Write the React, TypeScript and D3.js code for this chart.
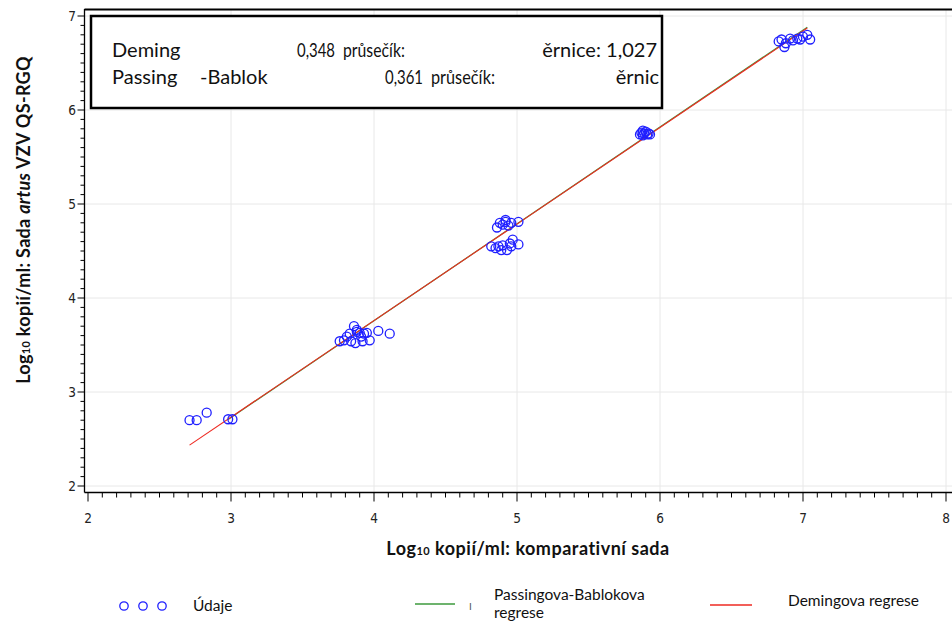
import React from 'react'
import * as d3 from 'd3'

// log10 copies/ml, comparative kit (x) vs artus VZV QS-RGQ (y)
const comparativeKit = [
	2.71, 2.76, 2.83, 2.98, 3.01,
	3.76, 3.79, 3.81, 3.83, 3.84, 3.86, 3.87, 3.88, 3.88, 3.90, 3.91, 3.92, 3.93, 3.95, 3.97, 4.03, 4.11,
	4.82, 4.85, 4.86, 4.87, 4.88, 4.89, 4.90, 4.90, 4.92, 4.93, 4.94, 4.95, 4.96, 4.96, 4.97, 5.01, 5.01, 4.92,
	5.86, 5.87, 5.88, 5.88, 5.89, 5.90, 5.91, 5.92, 5.93,
	6.83, 6.85, 6.87, 6.88, 6.91, 6.93, 6.96, 6.98, 7.00, 7.03, 7.05,
]
const artusKit = [
	2.70, 2.70, 2.78, 2.71, 2.71,
	3.54, 3.55, 3.59, 3.62, 3.54, 3.70, 3.52, 3.64, 3.66, 3.63, 3.59, 3.54, 3.62, 3.63, 3.55, 3.65, 3.62,
	4.55, 4.53, 4.75, 4.55, 4.80, 4.51, 4.78, 4.56, 4.83, 4.51, 4.77, 4.58, 4.80, 4.55, 4.62, 4.81, 4.57, 4.81,
	5.74, 5.76, 5.73, 5.78, 5.75, 5.77, 5.74, 5.75, 5.74,
	6.73, 6.75, 6.67, 6.71, 6.76, 6.74, 6.76, 6.75, 6.78, 6.80, 6.75,
]

const xTicks = [2, 3, 4, 5, 6, 7, 8]
const yTicks = [2, 3, 4, 5, 6, 7]

// regression fits: [intercept, slope], drawn over [from, to]
const demingFit = [-0.348, 1.027]
const demingRange = [2.71, 7.03]
const passingFit = [-0.361, 1.03]
const passingRange = [2.98, 7.03]

const legendLabels = ['Údaje', 'Passingova-Bablokova', 'regrese', 'Demingova regrese']

const blue = '#1f1fff'
const green = '#3c9a3c'
const red = '#ee2a22'
const sans = "Lato, 'Open Sans', sans-serif"
const narrow = "'Liberation Sans Narrow', 'DejaVu Sans Condensed', sans-serif"

export default function App() {
	const width = 952
	const height = 622
	const axisX = 84.5
	const axisY = 492.5

	const x = d3.scaleLinear().domain([2, 8]).range([88, 946])
	const y = d3.scaleLinear().domain([2, 7]).range([486, 16])

	const xMinor = d3.range(2, 8.001, 0.1)
	const yMinor = d3.range(2, 7.001, 0.1)

	const fitLine = (fit, range) => d3.line()
		.x(d => x(d))
		.y(d => y(fit[0] + fit[1] * d))(range)

	return (
		<div style={{position: 'fixed', left: 0, top: 0}}>
			<svg width={width} height={height} viewBox={`0 0 ${width} ${height}`} style={{display: 'block', background: '#fff'}}>
				{/* grid */}
				<g stroke="#e8e8e8" strokeWidth={1}>
					{xTicks.slice(1).map(t => (
						<line key={`gx-${t}`} x1={x(t)} x2={x(t)} y1={10} y2={axisY}/>
					))}
					{yTicks.map(t => (
						<line key={`gy-${t}`} x1={axisX} x2={width} y1={y(t)} y2={y(t)}/>
					))}
				</g>

				{/* fit lines */}
				<path d={fitLine(passingFit, passingRange)} fill="none" stroke={green} strokeWidth={1.2}/>
				<path d={fitLine(demingFit, demingRange)} fill="none" stroke={red} strokeWidth={1.1}/>

				{/* points */}
				<g fill="none" stroke={blue} strokeWidth={1.3}>
					{comparativeKit.map((d, i) => (
						<circle key={`pt-${i}`} cx={x(d)} cy={y(artusKit[i])} r={4.5}/>
					))}
				</g>

				{/* inset box */}
				<rect x={91} y={16} width={571} height={92} fill="#fff" stroke="#000" strokeWidth={2.5}/>
				<g fontFamily={sans} fontSize={20} fill="#111">
					<text x={112} y={57}>Deming</text>
					<text x={297} y={57} textLength={38} lengthAdjust="spacingAndGlyphs">0,348</text>
					<text x={343} y={57} textLength={62} lengthAdjust="spacingAndGlyphs">průsečík:</text>
					<text x={657} y={57} textAnchor="end">ěrnice: 1,027</text>

					<text x={112} y={84}>Passing</text>
					<text x={200} y={84}>-Bablok</text>
					<text x={385} y={84} textLength={38} lengthAdjust="spacingAndGlyphs">0,361</text>
					<text x={431} y={84} textLength={64} lengthAdjust="spacingAndGlyphs">průsečík:</text>
					<text x={659} y={84} textAnchor="end">ěrnic</text>
				</g>

				{/* frame */}
				<line x1={axisX} x2={width} y1={9.5} y2={9.5} stroke="#000" strokeWidth={2}/>
				<line x1={axisX} x2={axisX} y1={9} y2={axisY} stroke="#000" strokeWidth={1.3}/>
				<line x1={axisX} x2={width} y1={axisY} y2={axisY} stroke="#000" strokeWidth={1.3}/>

				{/* ticks */}
				<g stroke="#000" strokeWidth={1}>
					{xMinor.map((t, i) => (
						<line key={`xm-${i}`} x1={x(t)} x2={x(t)} y1={axisY} y2={axisY + (i % 10 === 0 ? 9 : 5)}/>
					))}
					{yMinor.map((t, i) => (
						<line key={`ym-${i}`} x1={axisX} x2={axisX - (i % 10 === 0 ? 7 : 4)} y1={y(t)} y2={y(t)}/>
					))}
				</g>
				<g fontFamily={narrow} fontSize={13.5} fill="#222">
					{xTicks.map(t => (
						<text key={`xl-${t}`} x={x(t)} y={523} textAnchor="middle">{t}</text>
					))}
					{yTicks.map(t => (
						<text key={`yl-${t}`} x={76} y={y(t) + 4.5} textAnchor="end">{t}</text>
					))}
				</g>

				{/* axis titles */}
				<text x={528} y={555} textAnchor="middle" fontFamily={sans} fontWeight={700} fontSize={18} letterSpacing={0.5} fill="#111">
					Log<tspan fontSize={11}>10</tspan> kopií/ml: komparativní sada
				</text>
				<text transform="translate(30,220) rotate(-90)" textAnchor="middle" fontFamily={sans} fontWeight={700} fontSize={18} letterSpacing={0.3} fill="#111">
					Log<tspan fontSize={11}>10</tspan> kopií/ml: Sada <tspan fontStyle="italic">artus</tspan> VZV QS-RGQ
				</text>

				{/* legend */}
				<g fill="none" stroke={blue} strokeWidth={1.3}>
					{[124, 143, 162].map(cx => (
						<circle key={`lg-${cx}`} cx={cx} cy={606} r={4.2}/>
					))}
				</g>
				<line x1={415} x2={455} y1={604} y2={604} stroke={green} strokeWidth={1.5}/>
				<line x1={710} x2={752} y1={605} y2={605} stroke={red} strokeWidth={1.5}/>
				<g fontFamily={sans} fontSize={15.5} fill="#111">
					<text x={193} y={611}>{legendLabels[0]}</text>
					<text x={469} y={610} fontSize={10} fill="#555">I</text>
					<text x={494} y={600}>{legendLabels[1]}</text>
					<text x={494} y={618}>{legendLabels[2]}</text>
					<text x={788} y={606}>{legendLabels[3]}</text>
				</g>
			</svg>
		</div>
	)
}
